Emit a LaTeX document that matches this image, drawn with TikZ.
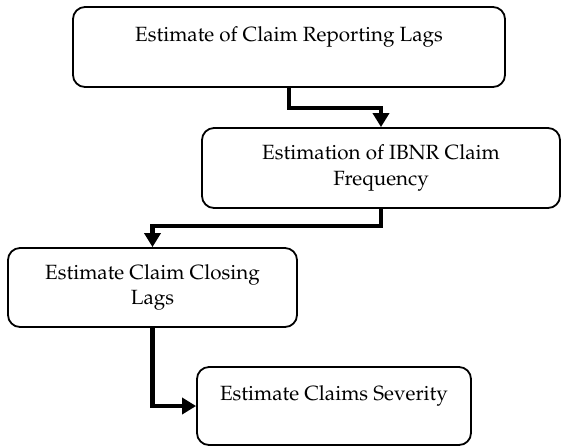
\documentclass[tikz,border=0pt]{standalone}
\usepackage[T1]{fontenc}
\usepackage{mathpazo}
\usepackage{tikz}
\usetikzlibrary{positioning,shapes,arrows.meta}

\begin{document}
\begin{tikzpicture}[x=0.5pt,y=-0.5pt]%[scale=2.5]
\useasboundingbox (0,0) rectangle (562,447);
\tikzstyle{every node}=[draw,rounded corners=6pt,line width=0.9pt,align=center,inner sep=0pt,font=\fontsize{10.3}{12.8}\selectfont]
\tikzstyle{flow}=[line width=2.3pt,-{Triangle[width=8pt,length=7pt]}]

\draw node[minimum width=216pt,minimum height=40pt] (b1) at (289,47) {Estimate of Claim Reporting Lags\\ \mbox{}};
\draw node[minimum width=179pt,minimum height=40pt] (b2) at (381,168) {Estimation of IBNR Claim\\ Frequency};
\draw node[minimum width=144.5pt,minimum height=39.5pt] (b3) at (152.5,287.5) {Estimate Claim Closing\\ Lags};
\draw node[minimum width=137pt,minimum height=39pt] (b4) at (334,406) {Estimate Claims Severity\\ \mbox{}};
\draw[flow] (b1.south) -- ++(0,20) -| (b2.north);
\draw[flow] (b2.south) -- ++(0,17) -| (b3.north);
\draw[flow] (b3.south) |- (b4.west);
\end{tikzpicture}
\end{document}
